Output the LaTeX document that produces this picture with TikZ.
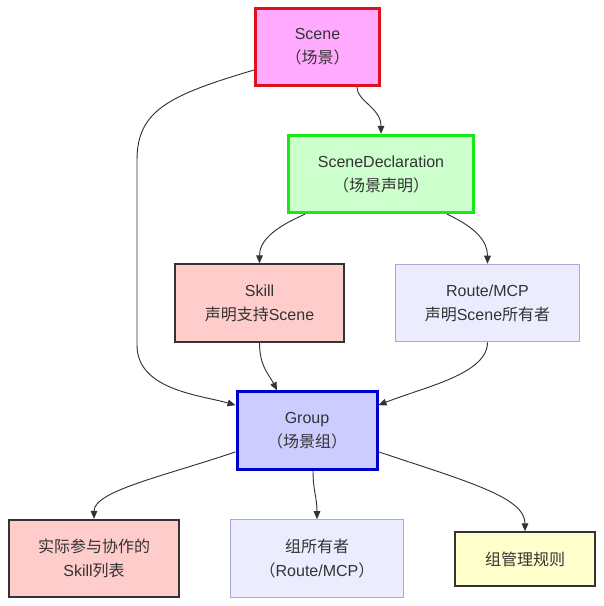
\documentclass[tikz,border=0pt]{standalone}
\usepackage{fontspec}
\setmainfont{Liberation Sans}
\newfontfamily\cjk{Noto Sans CJK SC}
\usetikzlibrary{arrows.meta, positioning}
\definecolor{txtcol}{HTML}{333333}
\definecolor{scenefill}{HTML}{FFAAFF}
\definecolor{scenedraw}{HTML}{E0101E}
\definecolor{declfill}{HTML}{CCFFCC}
\definecolor{decldraw}{HTML}{18E818}
\definecolor{redfill}{HTML}{FFCCCC}
\definecolor{lavfill}{HTML}{ECECFF}
\definecolor{lavdraw}{HTML}{AFA6D8}
\definecolor{groupfill}{HTML}{CCCCFF}
\definecolor{groupdraw}{HTML}{0000CC}
\definecolor{yelfill}{HTML}{FFFFCC}
\tikzset{
  blk/.style={rectangle, draw=txtcol, fill=redfill, line width=1.5pt,
    align=center, text=txtcol, inner sep=2pt,
    font=\fontsize{12pt}{18pt}\selectfont},
  blkM/.style={blk, fill=scenefill, draw=scenedraw, line width=2.25pt,
    minimum width=93pt, minimum height=58pt},
  blkG/.style={blk, fill=declfill, draw=decldraw, line width=2.25pt,
    minimum width=139pt, minimum height=58pt},
  blkR/.style={blk, minimum width=127pt, minimum height=58pt},
  blkL/.style={blk, fill=lavfill, draw=lavdraw, line width=0.9pt,
    minimum width=138pt, minimum height=58pt},
  blkB/.style={blk, fill=groupfill, draw=groupdraw, line width=2.25pt,
    minimum width=105pt, minimum height=58pt},
  blkY/.style={blk, fill=yelfill, minimum width=105pt, minimum height=40pt},
  arr/.style={-{Triangle[length=6pt,width=5pt]}, draw=txtcol, line width=0.7pt},
}
\begin{document}
\begin{tikzpicture}[x=0.75pt, y=-0.75pt]
  \useasboundingbox (0,0) rectangle (603,606);

  % Nodes
  \node[blkM] (scene) at (317.5,47) {Scene\\{\cjk （场景）}};
  \node[blkG] (decl)  at (381,174) {SceneDeclaration\\{\cjk （场景声明）}};
  \node[blkR] (skill) at (259.5,303) {Skill\\{\cjk 声明支持}Scene};
  \node[blkL] (route) at (487.5,303) {Route/MCP\\{\cjk 声明}Scene{\cjk 所有者}};
  \node[blkB] (group) at (307,430.5) {Group\\{\cjk （场景组）}};
  \node[blkR] (members) at (94,558.5) {{\cjk 实际参与协作的}\\Skill{\cjk 列表}};
  \node[blkL, minimum width=130pt] (owner) at (317,558.5) {{\cjk 组所有者}\\{\cjk （}Route/MCP{\cjk ）}};
  \node[blkY] (rules) at (525,559) {{\cjk 组管理规则}};

  % Edges
  \draw[arr] ([xshift=29.6pt]scene.south) .. controls +(0,14) and +(0,-26) .. (decl.north);
  \draw[arr] ([yshift=-17.25pt]scene.west) .. controls (170,95) and (137,110) .. (137,160)
       -- (137,345) .. controls (137,390) and (200,395) .. ([yshift=19pt]group.west);
  \draw[arr] ([xshift=-57pt]decl.south) .. controls +(-32,14) and +(0,-22) .. (skill.north);
  \draw[arr] ([xshift=49.5pt]decl.south) .. controls +(30,14) and +(0,-22) .. (route.north);
  \draw[arr] (skill.south) .. controls +(0,24) and +(-8,-16) .. ([xshift=-22.5pt]group.north);
  \draw[arr] (route.south) .. controls +(0,32) and +(45,-18) .. ([yshift=19pt]group.east);
  \draw[arr] ([yshift=-16pt]group.west) .. controls +(-70,24) and +(0,-28) .. (members.north);
  \draw[arr] ([xshift=4.5pt]group.south) .. controls +(0,20) and +(0,-22) .. (owner.north);
  \draw[arr] ([yshift=-16pt]group.east) .. controls +(90,30) and +(0,-34) .. (rules.north);
\end{tikzpicture}
\end{document}
